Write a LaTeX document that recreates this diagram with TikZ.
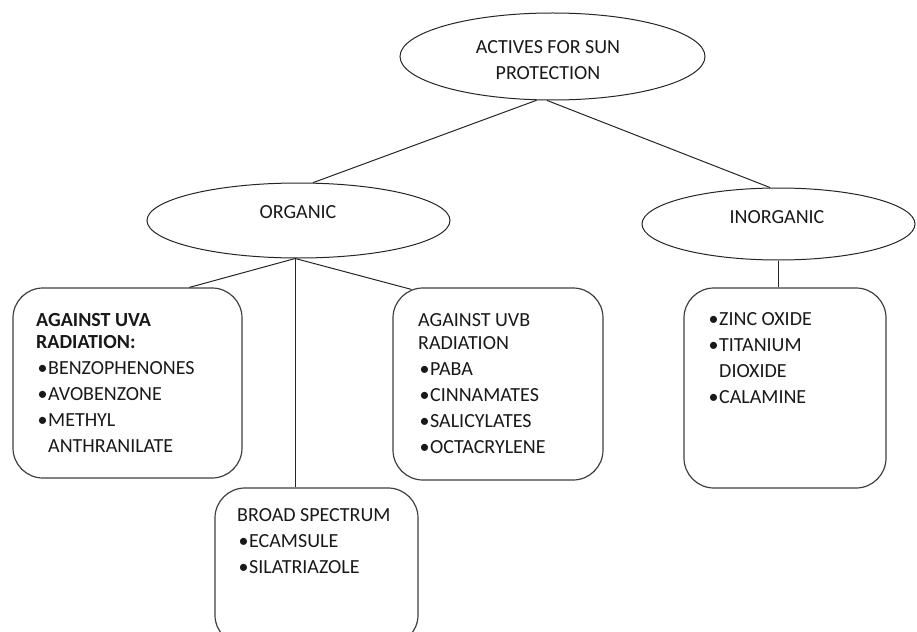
\documentclass[tikz,border=0pt]{standalone}
\usepackage{fontspec}
\setmainfont{Carlito}
\usetikzlibrary{shapes.geometric,calc}
\newcommand{\bitem}{\makebox[12pt][l]{\hspace{1.5pt}\textbullet}}
\begin{document}
\begin{tikzpicture}[x=1pt,y=-1pt,
  conn/.style={draw=black!85,line width=1pt},
  oval/.style={ellipse,draw=black!85,line width=1pt,inner sep=0pt},
  rbox/.style={rectangle,rounded corners=30pt,draw=black!75,line width=1.2pt,inner sep=0pt},
  txt/.style={inner sep=0pt,text=black!90,font=\fontsize{20}{26}\selectfont,align=left,anchor=north west},
  ctxt/.style={inner sep=0pt,text=black!90,font=\fontsize{20}{26}\selectfont,align=center}]
\useasboundingbox (0,0) rectangle (917,631);
\fill[white] (0,0) rectangle (917,631);
\clip (0,0) rectangle (917,631);

% ellipses
\node[oval,minimum width=305pt,minimum height=87pt] (root) at (552.5,56.5) {};
\node[ctxt] (roottext) at (548,60) {ACTIVES FOR SUN\\PROTECTION};
\node[oval,minimum width=303pt,minimum height=75pt] (organic) at (298.5,220.5) {};
\node[ctxt] (organictext) at (298,212) {ORGANIC};
\node[oval,minimum width=273pt,minimum height=72pt] (inorganic) at (778.5,224) {};
\node[ctxt] (inorganictext) at (777,217) {INORGANIC};

% boxes
\node[rbox,minimum width=229pt,minimum height=190pt] (uva) at (127.5,383) {};
\node[rbox,minimum width=210pt,minimum height=192pt] (uvb) at (498,384) {};
\node[rbox,minimum width=203pt,minimum height=157pt] (broad) at (316.5,566.5) {};
\node[rbox,minimum width=202pt,minimum height=200pt] (inbox) at (785,388) {};

% box texts
\node[txt] (uvatext) at (36,313.5) {\textbf{AGAINST UVA}\\[-4pt]\textbf{RADIATION:}\\\bitem BENZOPHENONES\\\bitem AVOBENZONE\\\bitem METHYL\\\hspace*{12pt}ANTHRANILATE};
\node[txt] (uvbtext) at (418,313.5) {AGAINST UVB\\[-3pt]RADIATION\\\bitem PABA\\\bitem CINNAMATES\\\bitem SALICYLATES\\\bitem OCTACRYLENE};
\node[txt] (broadtext) at (237,508.5) {BROAD SPECTRUM\\\bitem ECAMSULE\\\bitem SILATRIAZOLE};
\node[txt] (inboxtext) at (707,312.5) {\bitem ZINC OXIDE\\\bitem TITANIUM\\\hspace*{12pt}DIOXIDE\\\bitem CALAMINE};

% connectors
\coordinate (ob) at (organic.265);
\draw[conn] (root.250) -- (organic.69);
\draw[conn] (root.263) -- (inorganic.103);
\draw[conn] (ob) -- ($(uva.north west)+(177,0)$);
\draw[conn] (ob) -- ($(uvb.north west)+(19,2)$);
\draw[conn] (ob) -- (ob |- broad.north);
\draw[conn] (inorganic.south) -- (inorganic.south |- inbox.north);
\end{tikzpicture}
\end{document}
